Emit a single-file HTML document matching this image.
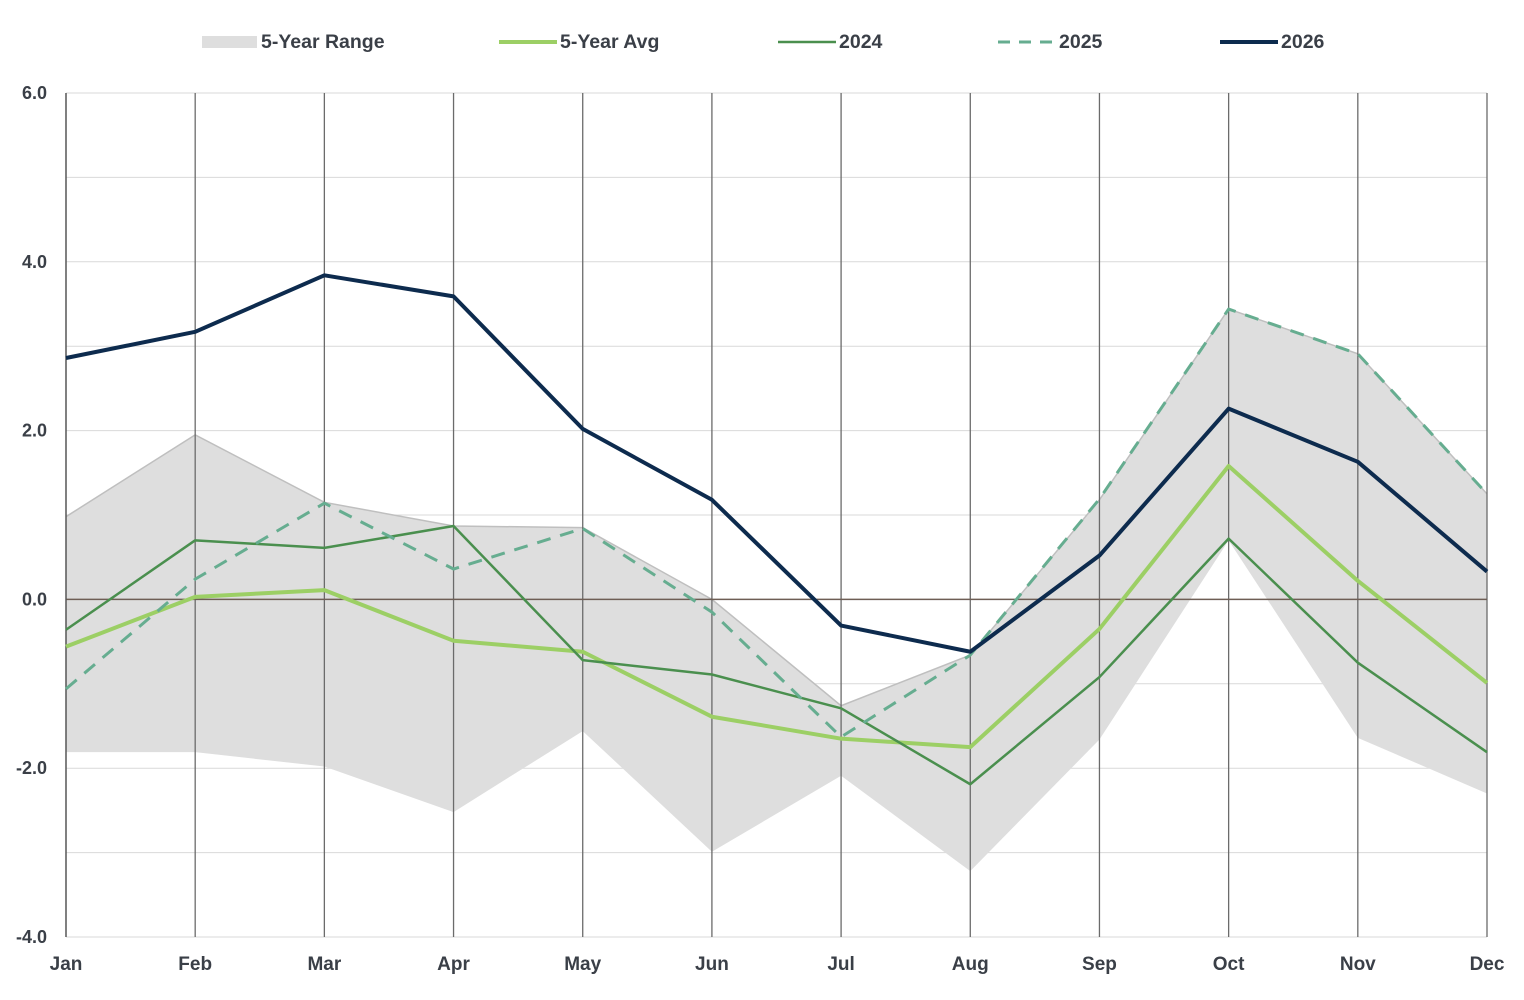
<!DOCTYPE html>
<html><head><meta charset="utf-8"><style>
body{margin:0;background:#fff;}
svg text{font-family:"Liberation Sans",sans-serif;font-weight:bold;fill:#3a3f47;}
</style></head><body>
<svg id="c" width="1524" height="995"></svg>
<script>
const months=["Jan","Feb","Mar","Apr","May","Jun","Jul","Aug","Sep","Oct","Nov","Dec"];
const rangeHigh=[0.98,1.95,1.15,0.87,0.85,0.0,-1.26,-0.66,1.18,3.44,2.91,1.25];
const rangeLow=[-1.81,-1.81,-1.98,-2.52,-1.56,-2.99,-2.09,-3.22,-1.66,0.70,-1.64,-2.3];
const avg5=[-0.56,0.03,0.11,-0.49,-0.62,-1.39,-1.65,-1.75,-0.35,1.58,0.22,-0.99];
const y2024=[-0.36,0.70,0.61,0.87,-0.72,-0.89,-1.29,-2.19,-0.92,0.72,-0.75,-1.81];
const y2025=[-1.06,0.24,1.14,0.36,0.84,-0.15,-1.63,-0.66,1.19,3.44,2.91,1.25];
const y2026=[2.86,3.17,3.84,3.59,2.02,1.18,-0.31,-0.62,0.52,2.26,1.63,0.33];
const yTicks=[6,4,2,0,-2,-4];
const X0=66,X1=1487,Y0=937,Y1=93,VMIN=-4,VMAX=6;
const xs=i=>X0+i*(X1-X0)/(months.length-1);
const ys=v=>Y0-(v-VMIN)/(VMAX-VMIN)*(Y0-Y1);
const svgEl=document.getElementById('c');const NS='http://www.w3.org/2000/svg';
function mk(t,a,p){const e=document.createElementNS(NS,t);for(const k in a)e.setAttribute(k,a[k]);(p||svgEl).appendChild(e);return e;}
for(let v=VMIN;v<=VMAX;v++){const g=mk('line',{x1:X0,x2:X1,y1:ys(v),y2:ys(v),stroke:'#d9d9d9','stroke-width':1});

}
let areaD='M'+months.map((m,i)=>xs(i)+','+ys(rangeHigh[i])).join('L');
for(let i=months.length-1;i>=0;i--)areaD+='L'+xs(i)+','+ys(rangeLow[i]);
const area=mk('path',{d:areaD+'Z',fill:'#dedede',stroke:'none'});


const rangeTop=mk('polyline',{points:months.map((m,i)=>xs(i)+','+ys(rangeHigh[i])).join(' '),fill:'none',stroke:'#bfbfbf','stroke-width':1.5});


months.forEach((m,i)=>{const l=mk('line',{x1:xs(i),x2:xs(i),y1:Y1,y2:Y0,stroke:'#6b6b6b','stroke-width':1.3});


const t=mk('text',{x:xs(i),y:970,'text-anchor':'middle','font-size':19});t.textContent=m;

});
const z=mk('line',{x1:X0,x2:X1,y1:ys(0),y2:ys(0),stroke:'#6e5e55','stroke-width':1.5});


yTicks.forEach(v=>{const t=mk('text',{x:47,y:ys(v)+6,'text-anchor':'end','font-size':18});t.textContent=v.toFixed(1);

});
const ax=mk('line',{x1:X0,x2:X0,y1:Y1,y2:Y0,stroke:'#555','stroke-width':1.3});


function series(arr,col,w,dash,name){const p=mk('polyline',{points:arr.map((v,i)=>xs(i)+','+ys(v)).join(' '),fill:'none',stroke:col,'stroke-width':w,'stroke-dasharray':dash||'none','stroke-linejoin':'round'});

}
series(avg5,'#9ccf65',4,null,'series-5yr-avg');
series(y2024,'#4a8f4e',2.5,null,'series-2024');
series(y2025,'#66ad90',3,'14,10','series-2025');
series(y2026,'#0d2b4e',4,null,'series-2026');
const leg=[["5-Year Range",202,'area'],["5-Year Avg",499,'#9ccf65',4],["2024",778,'#4a8f4e',2.5],["2025",998,'#66ad90',3,'12,9'],["2026",1220,'#0d2b4e',4]];
leg.forEach(L=>{const g=mk('g',{});


if(L[2]==='area')mk('rect',{x:L[1],y:36,width:55,height:12,fill:'#dedede'},g);
else mk('line',{x1:L[1],x2:L[1]+58,y1:42,y2:42,stroke:L[2],'stroke-width':L[3],'stroke-dasharray':L[4]||'none'},g);
const t=mk('text',{x:L[1]+(L[2]==='area'?59:61),y:48,'font-size':19.5},g);t.textContent=L[0];});
</script>
</body></html>
